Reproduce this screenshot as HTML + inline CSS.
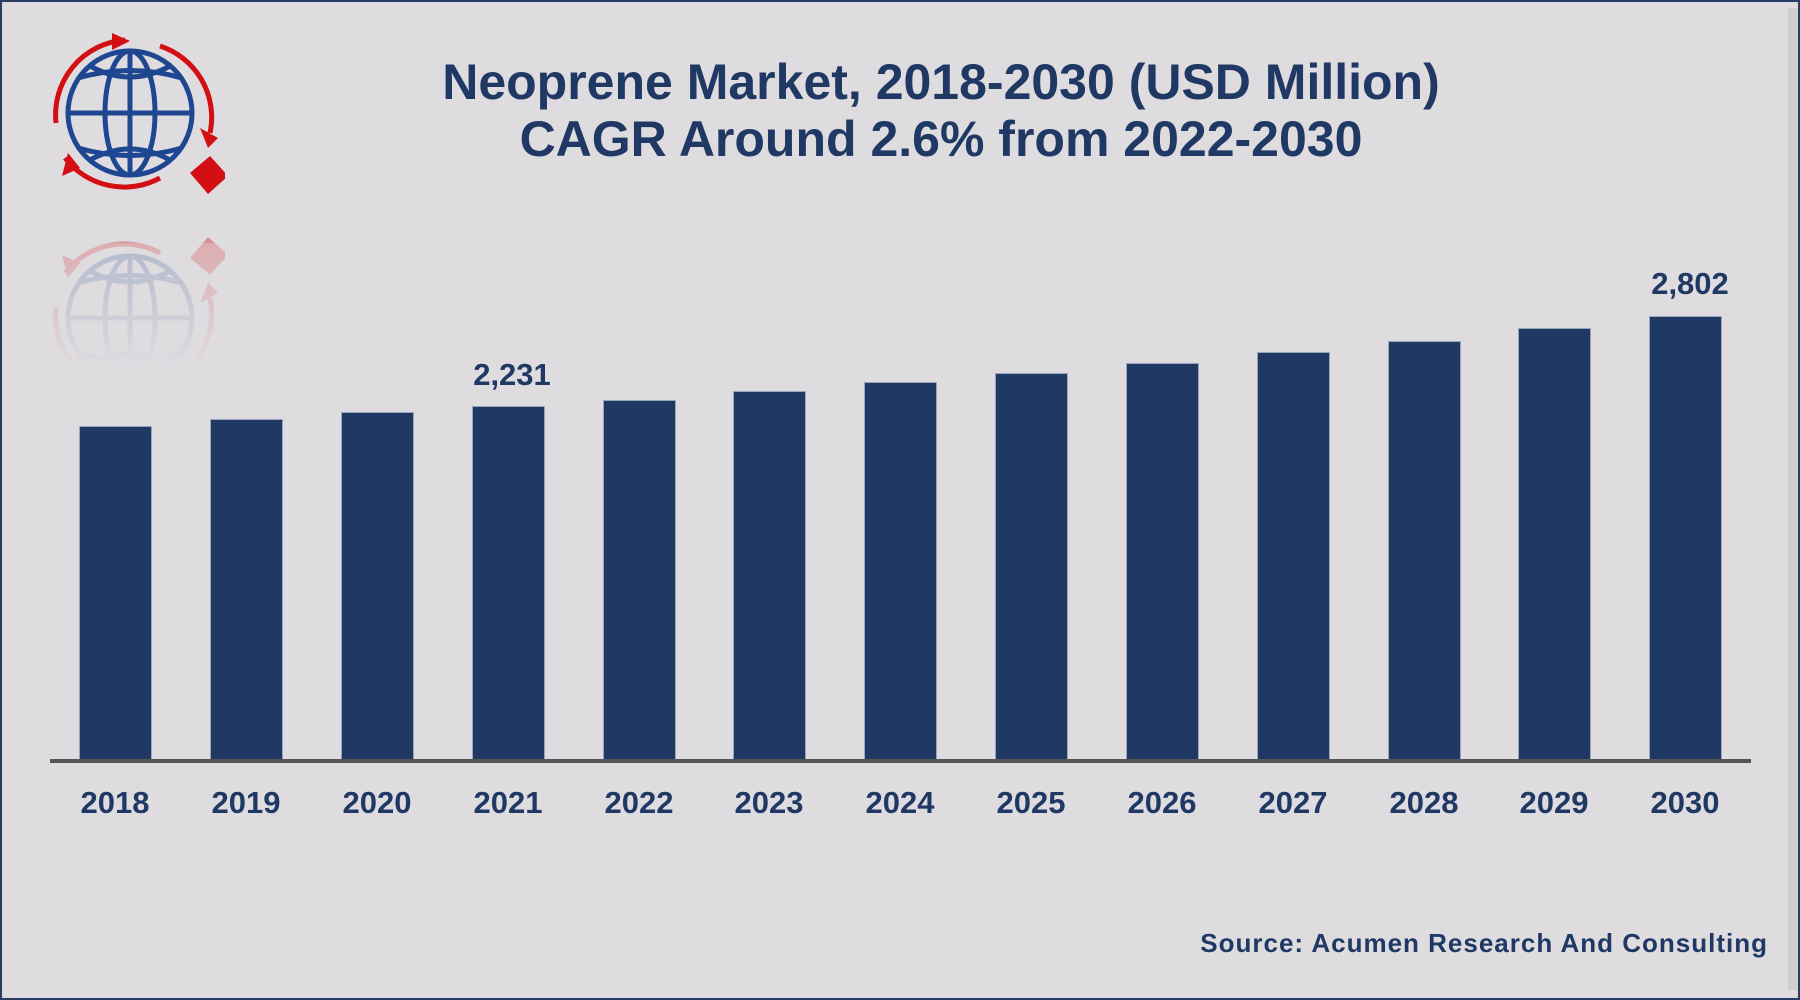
<!DOCTYPE html>
<html><head><meta charset="utf-8"><style>
html,body{margin:0;padding:0;}
body{width:1800px;height:1000px;background:#dedcdf;position:relative;overflow:hidden;font-family:"Liberation Sans",Arial,sans-serif;}
.frame{position:absolute;left:0;top:0;width:1796px;height:996px;border:2px solid #2a3d66;}
.shadow{position:absolute;right:2px;top:8px;width:10px;height:982px;background:#cfcfd1;}
.title{position:absolute;left:0;width:1882px;text-align:center;color:#1f3864;font-weight:bold;font-size:50px;}
.bar{position:absolute;width:73px;background:#203864;border:1px solid #9aa6bd;border-bottom:none;box-sizing:border-box;}
.lab{position:absolute;width:120px;text-align:center;color:#1f3864;font-weight:bold;font-size:31px;}
.axis{position:absolute;left:50px;top:759px;width:1701px;height:4px;background:#555;}
.src{position:absolute;right:32px;top:928px;color:#1f3864;font-weight:bold;font-size:26px;letter-spacing:1px;}
</style></head><body>
<div class="frame"></div>
<div class="shadow"></div>
<div class="title" style="top:53px;">Neoprene Market, 2018-2030 (USD Million)</div>
<div class="title" style="top:110px;">CAGR Around 2.6% from 2022-2030</div>

<svg style="position:absolute;left:50px;top:28px" width="175" height="340" viewBox="0 0 175 340">
 <defs><linearGradient id="fd" x1="0" y1="0" x2="0" y2="1"><stop offset="0" stop-color="#dedcdf" stop-opacity="0.35"/><stop offset="1" stop-color="#dedcdf" stop-opacity="1"/></linearGradient></defs>
 <g id="logo">
  <g fill="none" stroke="#1f4690" stroke-width="5">
   <circle cx="80" cy="85" r="62"/>
   <ellipse cx="80" cy="85" rx="25" ry="62"/>
   <line x1="80" y1="23" x2="80" y2="147"/>
   <line x1="18" y1="85" x2="142" y2="85"/>
   <path d="M28 50 Q80 35 132 50"/><path d="M28 120 Q80 135 132 120"/>
   <path d="M40 38 Q80 60 120 38"/><path d="M40 132 Q80 110 120 132"/>
  </g>
  <g fill="none" stroke="#d40f14" stroke-width="5">
   <path d="M6 95 A75 75 0 0 1 75 12"/>
   <path d="M110 18 A75 75 0 0 1 160 105"/>
   <path d="M110 150 A75 75 0 0 1 15 130"/>
  </g>
  <polygon points="62,5 80,13 62,22" fill="#d40f14"/>
  <polygon points="150,100 168,110 158,120" fill="#d40f14"/>
  <polygon points="18,125 12,148 30,140" fill="#d40f14"/>
  <polygon points="140,145 160,128 178,148 158,166" fill="#d40f14"/>
 </g>
 <g transform="translate(0,375) scale(1,-1)" opacity="0.35"><use href="#logo"/></g>
 <rect x="0" y="215" width="175" height="125" fill="url(#fd)"/>
</svg>

<div class="bar" style="left:79px;top:426px;height:335px"></div>
<div class="bar" style="left:210px;top:419px;height:342px"></div>
<div class="bar" style="left:341px;top:412px;height:349px"></div>
<div class="bar" style="left:472px;top:406px;height:355px"></div>
<div class="bar" style="left:603px;top:400px;height:361px"></div>
<div class="bar" style="left:733px;top:391px;height:370px"></div>
<div class="bar" style="left:864px;top:382px;height:379px"></div>
<div class="bar" style="left:995px;top:373px;height:388px"></div>
<div class="bar" style="left:1126px;top:363px;height:398px"></div>
<div class="bar" style="left:1257px;top:352px;height:409px"></div>
<div class="bar" style="left:1388px;top:341px;height:420px"></div>
<div class="bar" style="left:1518px;top:328px;height:433px"></div>
<div class="bar" style="left:1649px;top:316px;height:445px"></div>
<div class="axis"></div>

<div class="lab" style="left:452px;top:357px">2,231</div>
<div class="lab" style="left:1630px;top:266px">2,802</div>

<div class="lab" style="left:55px;top:785px">2018</div>
<div class="lab" style="left:186px;top:785px">2019</div>
<div class="lab" style="left:317px;top:785px">2020</div>
<div class="lab" style="left:448px;top:785px">2021</div>
<div class="lab" style="left:579px;top:785px">2022</div>
<div class="lab" style="left:709px;top:785px">2023</div>
<div class="lab" style="left:840px;top:785px">2024</div>
<div class="lab" style="left:971px;top:785px">2025</div>
<div class="lab" style="left:1102px;top:785px">2026</div>
<div class="lab" style="left:1233px;top:785px">2027</div>
<div class="lab" style="left:1364px;top:785px">2028</div>
<div class="lab" style="left:1494px;top:785px">2029</div>
<div class="lab" style="left:1625px;top:785px">2030</div>

<div class="src">Source: Acumen Research And Consulting</div>
</body></html>
